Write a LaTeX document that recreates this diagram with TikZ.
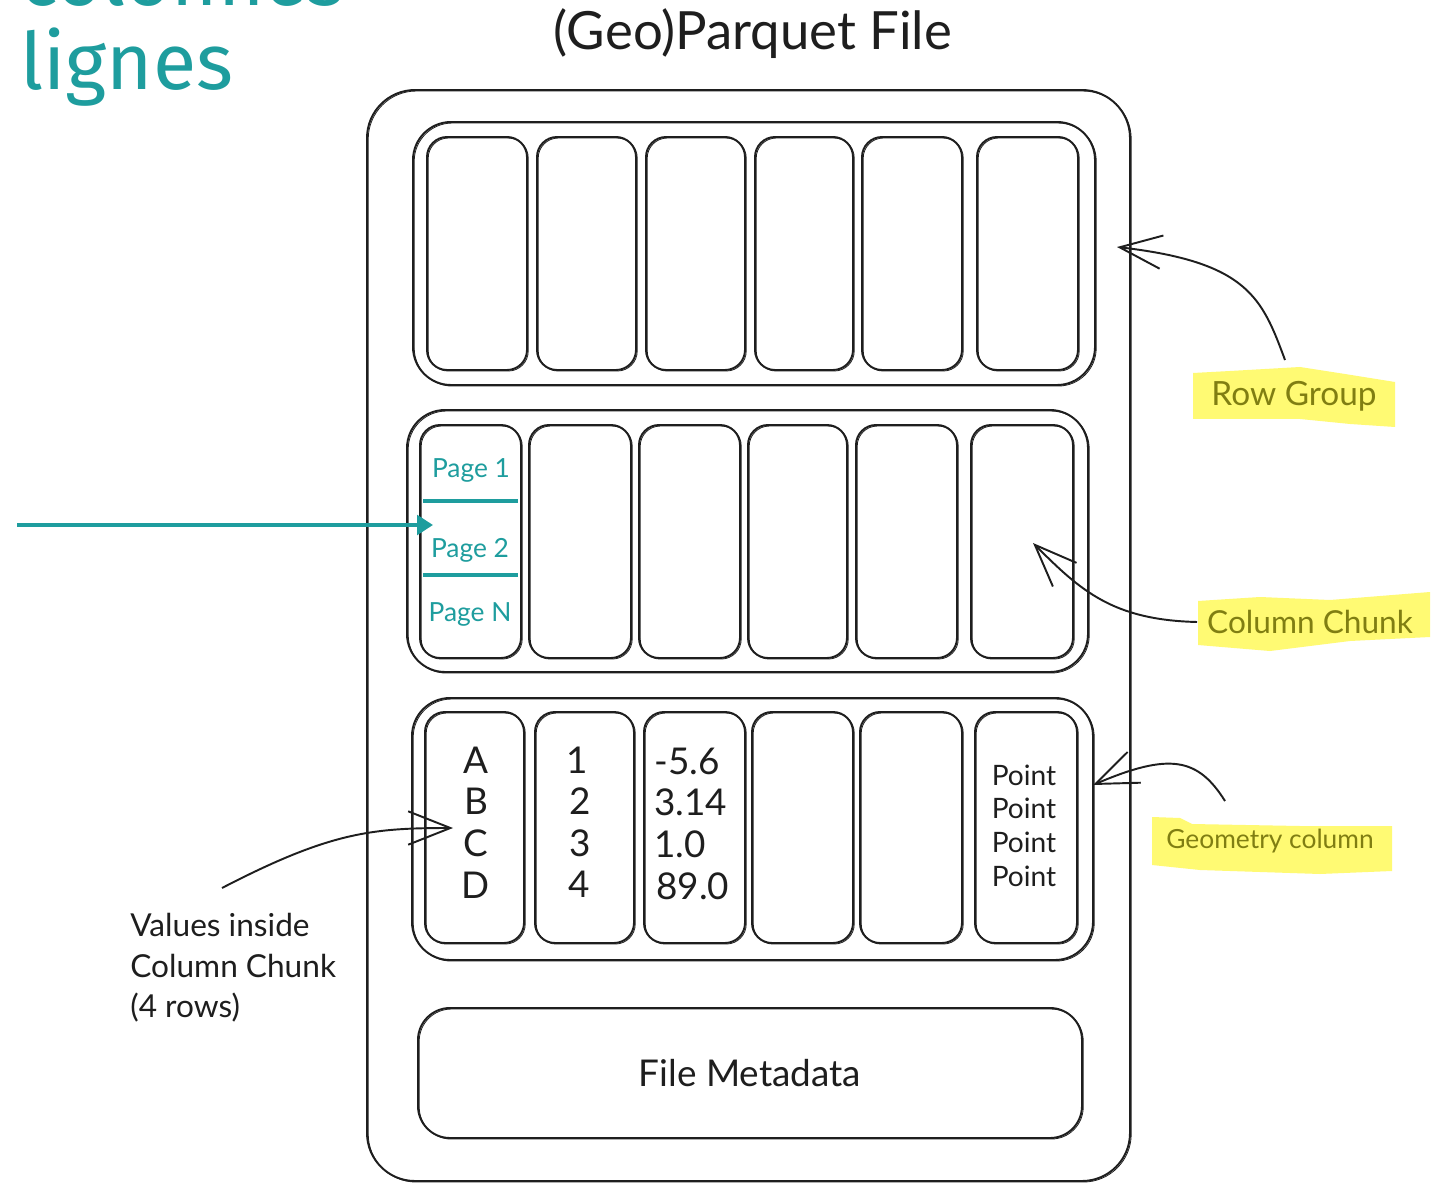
\documentclass[tikz,border=0pt]{standalone}
\usepackage{fontspec}
\setmainfont{Lato}
\newfontfamily\slidefont{Fira Sans}
\usetikzlibrary{arrows.meta}
\definecolor{tealc}{RGB}{30,157,158}
\definecolor{hl}{RGB}{255,250,115}
\definecolor{olivetext}{RGB}{128,126,18}
\definecolor{ink}{RGB}{30,30,30}
\tikzset{
  skbox/.style={draw=ink, line width=1.1pt, inner sep=0pt, outer sep=0pt,
    postaction={draw=ink, line width=0.45pt, transform canvas={shift={(0.7pt,-0.6pt)}}}},
  skarrow/.style={draw=ink, line width=1.1pt,
    -{Straight Barb[length=24pt,width=19pt,line width=1.1pt]}},
  tealarrow/.style={draw=tealc, line width=2.3pt, -{Triangle[length=9pt,width=11pt]}},
  tealrule/.style={draw=tealc, line width=1.8pt},
  pagetxt/.style={text=tealc, font=\fontsize{15}{18}\selectfont, inner sep=0pt},
  valtxt/.style={text=ink, font=\fontsize{21}{25}\selectfont, inner sep=0pt},
  pointtxt/.style={text=ink, font=\fontsize{16}{19}\selectfont, inner sep=0pt},
  hltxt/.style={text=olivetext, inner sep=0pt},
  notetxt/.style={text=ink, font=\fontsize{18}{23}\selectfont, inner sep=0pt, anchor=base west},
  bigteal/.style={text=tealc, font=\slidefont\fontsize{45}{50}\selectfont, inner sep=0pt, anchor=base west}
}
\newcommand\skb[6]{%
  \node[skbox, minimum width={(#4-#2)*0.02cm}, minimum height={(#5-#3)*0.02cm},
        rounded corners={#6*0.02cm}] (#1) at ({(#2+#4)/2},{(#3+#5)/2}) {};}
\begin{document}
\begin{tikzpicture}[x=0.02cm,y=-0.02cm]
\useasboundingbox (0,0) rectangle (1436,1185);
\fill[white] (0,0) rectangle (1436,1185);

% slide text (cut at top)
\node[bigteal] (colonnes) at (20,6) {colonnes};
\node[bigteal] (lignes) at (20,90) {lignes};

% title
\node[text=ink, font=\fontsize{30}{34}\selectfont, inner sep=0pt] (title) at (753,34) {(Geo)Parquet File};

% file box
\skb{file}{367}{90}{1130}{1181}{48}

% row group 1
\skb{rgA}{413}{122}{1095}{385}{38}
\foreach \i/\a/\b in {1/427/527,2/537/636,3/646/745,4/755/853,5/862/962,6/977/1078}
  {\skb{cA\i}{\a}{137}{\b}{370}{20}}

% row group 2
\skb{rgB}{407}{410}{1088}{672}{38}
\foreach \i/\a/\b in {1/420/521,2/529/631,3/639/740,4/748/847,5/856/957,6/971/1073}
  {\skb{cB\i}{\a}{425}{\b}{658}{20}}

% row group 3
\skb{rgC}{412}{698}{1093}{960}{38}
\foreach \i/\a/\b in {1/425/524,2/535/634,3/644/745,4/752/853,5/860/962,6/975/1077}
  {\skb{cC\i}{\a}{712}{\b}{943}{20}}

% file metadata
\skb{meta}{418}{1008}{1082}{1138}{32}
\node[text=ink, font=\fontsize{21}{25}\selectfont, inner sep=0pt] (metatxt) at (meta.center) {File Metadata};

% pages in first column chunk of row group 2
\node[pagetxt] (p1) at (471,470) {Page 1};
\node[pagetxt] (p2) at (470,550) {Page 2};
\node[pagetxt] (pN) at (470,614) {Page N};
\coordinate (r1a) at (423,501); \coordinate (r1b) at (518,501);
\coordinate (r2a) at (423,575); \coordinate (r2b) at (518,575);
\draw[tealrule] (r1a) -- (r1b);
\draw[tealrule] (r2a) -- (r2b);

% teal arrow
\coordinate (tealstart) at (17,525);
\coordinate (tealend) at (433,525);
\draw[tealarrow] (tealstart) -- (tealend);

% values in row group 3
\node[valtxt] (vA) at (476,760) {A};
\node[valtxt] (vB) at (476,801) {B};
\node[valtxt] (vC) at (476,843) {C};
\node[valtxt] (vD) at (476,885) {D};
\node[valtxt] (n1) at (577,760) {1};
\node[valtxt] (n2) at (580,801) {2};
\node[valtxt] (n3) at (580,843) {3};
\node[valtxt] (n4) at (579,884) {4};
\node[valtxt, anchor=west] (f1) at (654,761) {-5.6};
\node[valtxt, anchor=west] (f2) at (654,802) {3.14};
\node[valtxt, anchor=west] (f3) at (654,844) {1.0};
\node[valtxt, anchor=west] (f4) at (656,886) {89.0};
\node[pointtxt] (pt1) at (1024,775) {Point};
\node[pointtxt] (pt2) at (1024,808) {Point};
\node[pointtxt] (pt3) at (1024,842) {Point};
\node[pointtxt] (pt4) at (1024,876) {Point};

% highlights
\fill[hl] (1193,373) -- (1230,371) -- (1300,367) -- (1345,374) -- (1395,382)
  -- (1395,427) -- (1350,424) -- (1300,419) -- (1240,419) -- (1193,419) -- cycle;
\fill[hl] (1198,601) -- (1260,597) -- (1330,600) -- (1430,592)
  -- (1430,637) -- (1350,641) -- (1270,651) -- (1198,645) -- cycle;
\fill[hl] (1152,817) -- (1180,818) -- (1192,824) -- (1300,826) -- (1392,826)
  -- (1392,871) -- (1320,874) -- (1200,870) -- (1152,865) -- cycle;

\node[hltxt, font=\fontsize{19}{22}\selectfont] (rglab) at (1294,396) {Row Group};
\node[hltxt, font=\fontsize{18}{22}\selectfont] (cclab) at (1310,622) {Column Chunk};
\node[hltxt, font=\fontsize{15}{18}\selectfont] (gclab) at (1270,841) {Geometry column};

% annotation
\node[notetxt] (note1) at (130,936) {Values inside};
\node[notetxt] (note2) at (130,977) {Column Chunk};
\node[notetxt] (note3) at (130,1017) {(4 rows)};

% arrows
\coordinate (rgs) at (1285,360);
\coordinate (rgt) at (1117,247);
\draw[skarrow] (rgs) .. controls (1262,298) and (1248,262) .. (rgt);
\coordinate (ccs) at (1197,622);
\coordinate (cct) at (1033,543);
\draw[skarrow] (ccs) .. controls (1112,620) and (1080,590) .. (cct);
\coordinate (gcs) at (1225,801);
\coordinate (gct) at (1093,785);
\draw[skarrow] (gcs) .. controls (1198,758) and (1170,752) .. (gct);
\coordinate (vls) at (222,888);
\coordinate (vlt) at (453,828);
\draw[skarrow] (vls) .. controls (330,832) and (372,828) .. (vlt);
\end{tikzpicture}
\end{document}
